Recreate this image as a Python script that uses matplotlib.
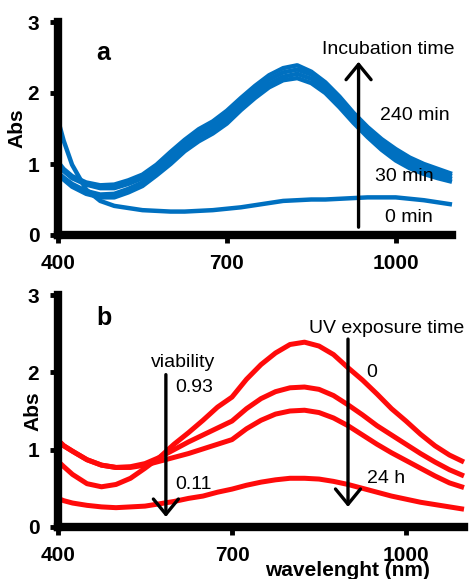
import numpy as np
import matplotlib
matplotlib.use('Agg')
import matplotlib.pyplot as plt

plt.rcParams['font.family'] = ['Liberation Sans', 'DejaVu Sans']

# longitudes de onda comunes
wl = [400, 410, 425, 450, 475, 500, 525, 550, 575, 600, 625, 650, 675, 700, 725,
      750, 775, 800, 825, 850, 875, 900, 925, 950, 975, 1000, 1025, 1050, 1075, 1100]

# panel a: tiempo de incubacion
abs_0min = [1.62, 1.33, 0.99, 0.64, 0.48, 0.41, 0.38, 0.35, 0.34, 0.33, 0.33, 0.34, 0.35, 0.37, 0.39,
            0.42, 0.45, 0.48, 0.49, 0.50, 0.50, 0.51, 0.52, 0.53, 0.53, 0.53, 0.51, 0.49, 0.46, 0.43]
abs_30min = [0.85, 0.78, 0.68, 0.58, 0.53, 0.53, 0.60, 0.69, 0.84, 1.00, 1.18, 1.32, 1.43, 1.57, 1.76,
             1.93, 2.08, 2.18, 2.21, 2.14, 2.00, 1.80, 1.58, 1.38, 1.20, 1.05, 0.94, 0.86, 0.80, 0.75]
abs_60min = [0.88, 0.81, 0.72, 0.62, 0.57, 0.58, 0.65, 0.74, 0.89, 1.06, 1.23, 1.38, 1.49, 1.63, 1.81,
             1.98, 2.13, 2.23, 2.27, 2.20, 2.05, 1.85, 1.62, 1.42, 1.25, 1.10, 0.99, 0.91, 0.85, 0.79]
abs_120min = [1.00, 0.90, 0.80, 0.71, 0.66, 0.66, 0.72, 0.80, 0.94, 1.12, 1.29, 1.44, 1.55, 1.69, 1.87,
              2.04, 2.19, 2.29, 2.33, 2.26, 2.10, 1.90, 1.67, 1.47, 1.30, 1.16, 1.04, 0.96, 0.89, 0.83]
abs_240min = [1.03, 0.93, 0.83, 0.74, 0.70, 0.71, 0.77, 0.85, 0.99, 1.17, 1.34, 1.49, 1.60, 1.75, 1.93,
              2.10, 2.25, 2.35, 2.39, 2.30, 2.15, 1.95, 1.72, 1.52, 1.35, 1.21, 1.09, 1.00, 0.93, 0.86]

# panel b: tiempo de exposicion UV
uv_0h = [0.85, 0.78, 0.68, 0.56, 0.52, 0.55, 0.63, 0.76, 0.90, 1.07, 1.22, 1.38, 1.55, 1.68, 1.91,
         2.10, 2.25, 2.36, 2.39, 2.34, 2.23, 2.06, 1.90, 1.72, 1.53, 1.37, 1.20, 1.05, 0.93, 0.84]
uv_mid1 = [1.12, 1.05, 0.98, 0.87, 0.80, 0.77, 0.78, 0.82, 0.90, 1.00, 1.10, 1.19, 1.28, 1.37, 1.53,
           1.66, 1.75, 1.80, 1.81, 1.78, 1.70, 1.58, 1.45, 1.31, 1.19, 1.07, 0.95, 0.84, 0.74, 0.66]
uv_mid2 = [1.12, 1.05, 0.98, 0.87, 0.80, 0.77, 0.77, 0.80, 0.85, 0.90, 0.95, 1.01, 1.07, 1.13, 1.27,
           1.38, 1.46, 1.50, 1.51, 1.48, 1.41, 1.31, 1.19, 1.07, 0.96, 0.86, 0.76, 0.66, 0.57, 0.51]
uv_24h = [0.37, 0.34, 0.31, 0.28, 0.26, 0.25, 0.26, 0.27, 0.30, 0.33, 0.37, 0.40, 0.45, 0.49, 0.54,
          0.58, 0.61, 0.63, 0.63, 0.62, 0.59, 0.55, 0.50, 0.45, 0.40, 0.36, 0.32, 0.29, 0.26, 0.23]

xticks = [400, 700, 1000]
yticks = [0, 1, 2, 3]

azul = '#0070c0'
rojo = '#ff0a0a'

fig = plt.figure(figsize=(4.69, 5.79), dpi=100)
ax1 = fig.add_axes([58/469, 1 - 235/579, 394/469, 213/579])
ax2 = fig.add_axes([58/469, 1 - 527/579, 406/469, 232/579])


def estilo(ax, ylabel_x):
    for s in ['top', 'right']:
        ax.spines[s].set_visible(False)
    for s in ['left', 'bottom']:
        ax.spines[s].set_linewidth(6)
    ax.set_xlim(400, 1100)
    ax.set_ylim(0, 3)
    ax.set_xticks(xticks)
    ax.set_yticks(yticks)
    ax.tick_params(direction='out', length=5.5, width=3.5, pad=8, labelsize=15)
    for t in ax.get_xticklabels() + ax.get_yticklabels():
        t.set_fontweight('bold')
    ax.set_ylabel('Abs', fontsize=15, fontweight='bold')
    ax.yaxis.set_label_coords(ylabel_x, 0.5)


def flecha(ax, x, y0, y1):
    ax.annotate('', xy=(x, y1), xytext=(x, y0),
                arrowprops=dict(arrowstyle='->,head_length=0.55,head_width=0.45',
                                lw=2.4, color='black', mutation_scale=20,
                                shrinkA=0, shrinkB=0))


# panel a
for y in [abs_0min, abs_30min, abs_60min, abs_120min, abs_240min]:
    ax1.plot(wl, y, color=azul, lw=3.2, solid_capstyle='butt', clip_on=False)
estilo(ax1, -0.079)
flecha(ax1, 934, 0.11, 2.44)
tx = dict(fontsize=14, ha='center', va='center')
ax1.text(986, 2.61, 'Incubation time', clip_on=False, **tx)
ax1.text(1034, 1.69, '240 min', **tx)
ax1.text(1016, 0.82, '30 min', **tx)
ax1.text(1023, 0.25, '0 min', **tx)
ax1.text(480, 2.56, 'a', fontsize=18, fontweight='bold', ha='center', va='center')

# panel b
for y in [uv_0h, uv_mid1, uv_mid2, uv_24h]:
    ax2.plot(wl, y, color=rojo, lw=3.6, solid_capstyle='butt', clip_on=False)
estilo(ax2, -0.037)
flecha(ax2, 586, 1.97, 0.13)
flecha(ax2, 900, 2.43, 0.26)
ax2.text(967, 2.57, 'UV exposure time', clip_on=False, **tx)
ax2.text(616, 2.13, 'viability', **tx)
ax2.text(634, 1.81, '0.93', **tx)
ax2.text(634, 0.55, '0.11', **tx)
ax2.text(941, 2.0, '0', **tx)
ax2.text(965, 0.63, '24 h', **tx)
ax2.text(479, 2.70, 'b', fontsize=18, fontweight='bold', ha='center', va='center')

fig.text(347/469, 1 - 571/579, 'wavelenght (nm)', fontsize=15, fontweight='bold',
         ha='center', va='center')

fig.savefig('out.png', dpi=100)
